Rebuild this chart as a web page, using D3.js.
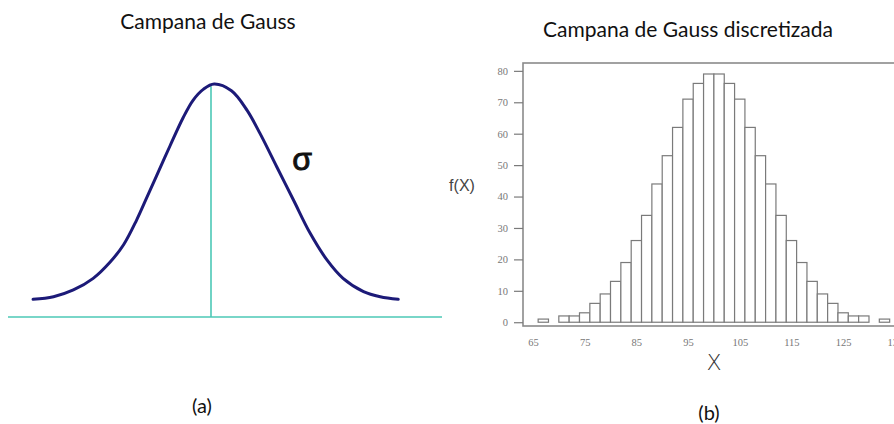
<!DOCTYPE html>
<html>
<head>
<meta charset="utf-8">
<script src="https://cdn.jsdelivr.net/npm/d3@7"></script>
<style>
  html, body { margin: 0; padding: 0; background: #fff; }
  svg { display: block; }
</style>
</head>
<body>
<script>
// (a) bell curve: x in sigma-ish units, y as share of the peak height
const curveX = [-2.87, -2.54, -2.22, -1.90, -1.63, -1.41, -1.20, -1.04, -0.88, -0.66, -0.45, -0.29, -0.12, 0.05,
                0.33, 0.58, 0.79, 1.06, 1.33, 1.60, 1.87, 2.13, 2.46, 2.73, 3.02];
const curveY = [0.076, 0.087, 0.116, 0.166, 0.235, 0.31, 0.416, 0.51, 0.605, 0.735, 0.855, 0.93, 0.978, 1.0,
                0.971, 0.888, 0.788, 0.645, 0.502, 0.359, 0.245, 0.166, 0.109, 0.087, 0.076];

// (b) histogram, bins of width 2
const binLow = [66, 68, 70, 72, 74, 76, 78, 80, 82, 84, 86, 88, 90, 92, 94, 96, 98,
                100, 102, 104, 106, 108, 110, 112, 114, 116, 118, 120, 122, 124, 126, 128, 130, 132];
const binCount = [1, 0, 2, 2, 3, 6, 9, 13, 19, 26, 34, 44, 53, 62, 71, 76, 79,
                  79, 76, 71, 62, 53, 44, 34, 26, 19, 13, 9, 6, 3, 2, 2, 0, 1];
const binWidth = 2;
const xTicks = [65, 75, 85, 95, 105, 115, 125, 135];
const yTicks = [0, 10, 20, 30, 40, 50, 60, 70, 80];

const width = 894, height = 424;
const svg = d3.select("body").append("svg")
  .attr("width", width).attr("height", height);

const titleFont = "Lato, 'Open Sans', sans-serif";

// ---------- (a) ----------
const xa = d3.scaleLinear().domain([-3, 3]).range([25, 397]);
const ya = d3.scaleLinear().domain([0, 1]).range([317, 84]);
const teal = "#4cc8b6";

svg.append("text")
  .attr("x", 208).attr("y", 29)
  .attr("text-anchor", "middle")
  .style("font-family", titleFont).style("font-size", "21px").style("fill", "#111")
  .text("Campana de Gauss");

svg.append("line")
  .attr("x1", 8).attr("x2", 442)
  .attr("y1", ya(0)).attr("y2", ya(0))
  .attr("stroke", teal).attr("stroke-width", 1.6);

svg.append("line")
  .attr("x1", xa(0)).attr("x2", xa(0))
  .attr("y1", ya(0)).attr("y2", ya(0.99))
  .attr("stroke", teal).attr("stroke-width", 1.6);

const bell = d3.line()
  .x((d, i) => xa(curveX[i]))
  .y(d => ya(d))
  .curve(d3.curveCatmullRom);

svg.append("path")
  .attr("d", bell(curveY))
  .attr("fill", "none")
  .attr("stroke", "#1c1a78")
  .attr("stroke-width", 3)
  .attr("stroke-linecap", "round");

svg.append("text")
  .attr("x", 302).attr("y", 170)
  .attr("text-anchor", "middle")
  .style("font-family", "'Liberation Sans', Arial, sans-serif")
  .style("font-size", "32px").style("fill", "#111")
  .style("stroke", "#111").style("stroke-width", 0.9)
  .text("σ");

svg.append("text")
  .attr("x", 202).attr("y", 413)
  .attr("text-anchor", "middle")
  .style("font-family", titleFont).style("font-size", "20px").style("fill", "#111")
  .text("(a)");

// ---------- (b) ----------
const xb = d3.scaleLinear().domain([63.07, 136]).range([523, 900]);
const yb = d3.scaleLinear().domain([-1.2, 82.5]).range([326, 63]);
const grey = "#7a7a7a";

svg.append("text")
  .attr("x", 688).attr("y", 37)
  .attr("text-anchor", "middle")
  .style("font-family", titleFont).style("font-size", "21px").style("fill", "#111")
  .text("Campana de Gauss discretizada");

const bins = binLow.map((b, i) => ({ x0: b, x1: b + binWidth, n: binCount[i] }));

svg.append("g")
  .selectAll("rect")
  .data(bins.filter(d => d.n > 0))
  .join("rect")
  .attr("x", d => xb(d.x0))
  .attr("width", d => xb(d.x1) - xb(d.x0))
  .attr("y", d => yb(d.n))
  .attr("height", d => yb(0) - yb(d.n))
  .attr("fill", "#fff")
  .attr("stroke", grey)
  .attr("stroke-width", 1.2);

svg.append("rect")
  .attr("x", xb.range()[0]).attr("y", yb.range()[1])
  .attr("width", xb.range()[1] - xb.range()[0])
  .attr("height", yb.range()[0] - yb.range()[1])
  .attr("fill", "none")
  .attr("stroke", "#8a8a8a")
  .attr("stroke-width", 1.6);

const yAxis = svg.append("g")
  .attr("transform", `translate(${xb.range()[0]},0)`)
  .call(d3.axisLeft(yb).tickValues(yTicks).tickSize(9).tickPadding(6));
yAxis.select(".domain").remove();
yAxis.selectAll("line").attr("stroke", grey).attr("stroke-width", 1.2);
yAxis.selectAll("text")
  .style("font-family", "'Liberation Serif', 'DejaVu Serif', serif")
  .style("font-size", "10.5px").style("fill", "#777");

const xAxis = svg.append("g")
  .attr("transform", `translate(0,${yb.range()[0]})`)
  .call(d3.axisBottom(xb).tickValues(xTicks).tickSize(0).tickPadding(13));
xAxis.select(".domain").remove();
xAxis.selectAll("text")
  .style("font-family", "'Liberation Serif', 'DejaVu Serif', serif")
  .style("font-size", "10.5px").style("fill", "#777");

svg.append("text")
  .attr("x", 462).attr("y", 191)
  .attr("text-anchor", "middle")
  .style("font-family", "'Liberation Sans', Arial, sans-serif")
  .style("font-size", "16px").style("fill", "#444")
  .text("f(X)");

svg.append("text")
  .attr("x", 714).attr("y", 370)
  .attr("text-anchor", "middle")
  .style("font-family", "'DejaVu Sans', sans-serif").style("font-weight", 200)
  .style("font-size", "22px").style("fill", "#333")
  .text("X");

svg.append("text")
  .attr("x", 709).attr("y", 420)
  .attr("text-anchor", "middle")
  .style("font-family", titleFont).style("font-size", "20px").style("fill", "#111")
  .text("(b)");
</script>
</body>
</html>
